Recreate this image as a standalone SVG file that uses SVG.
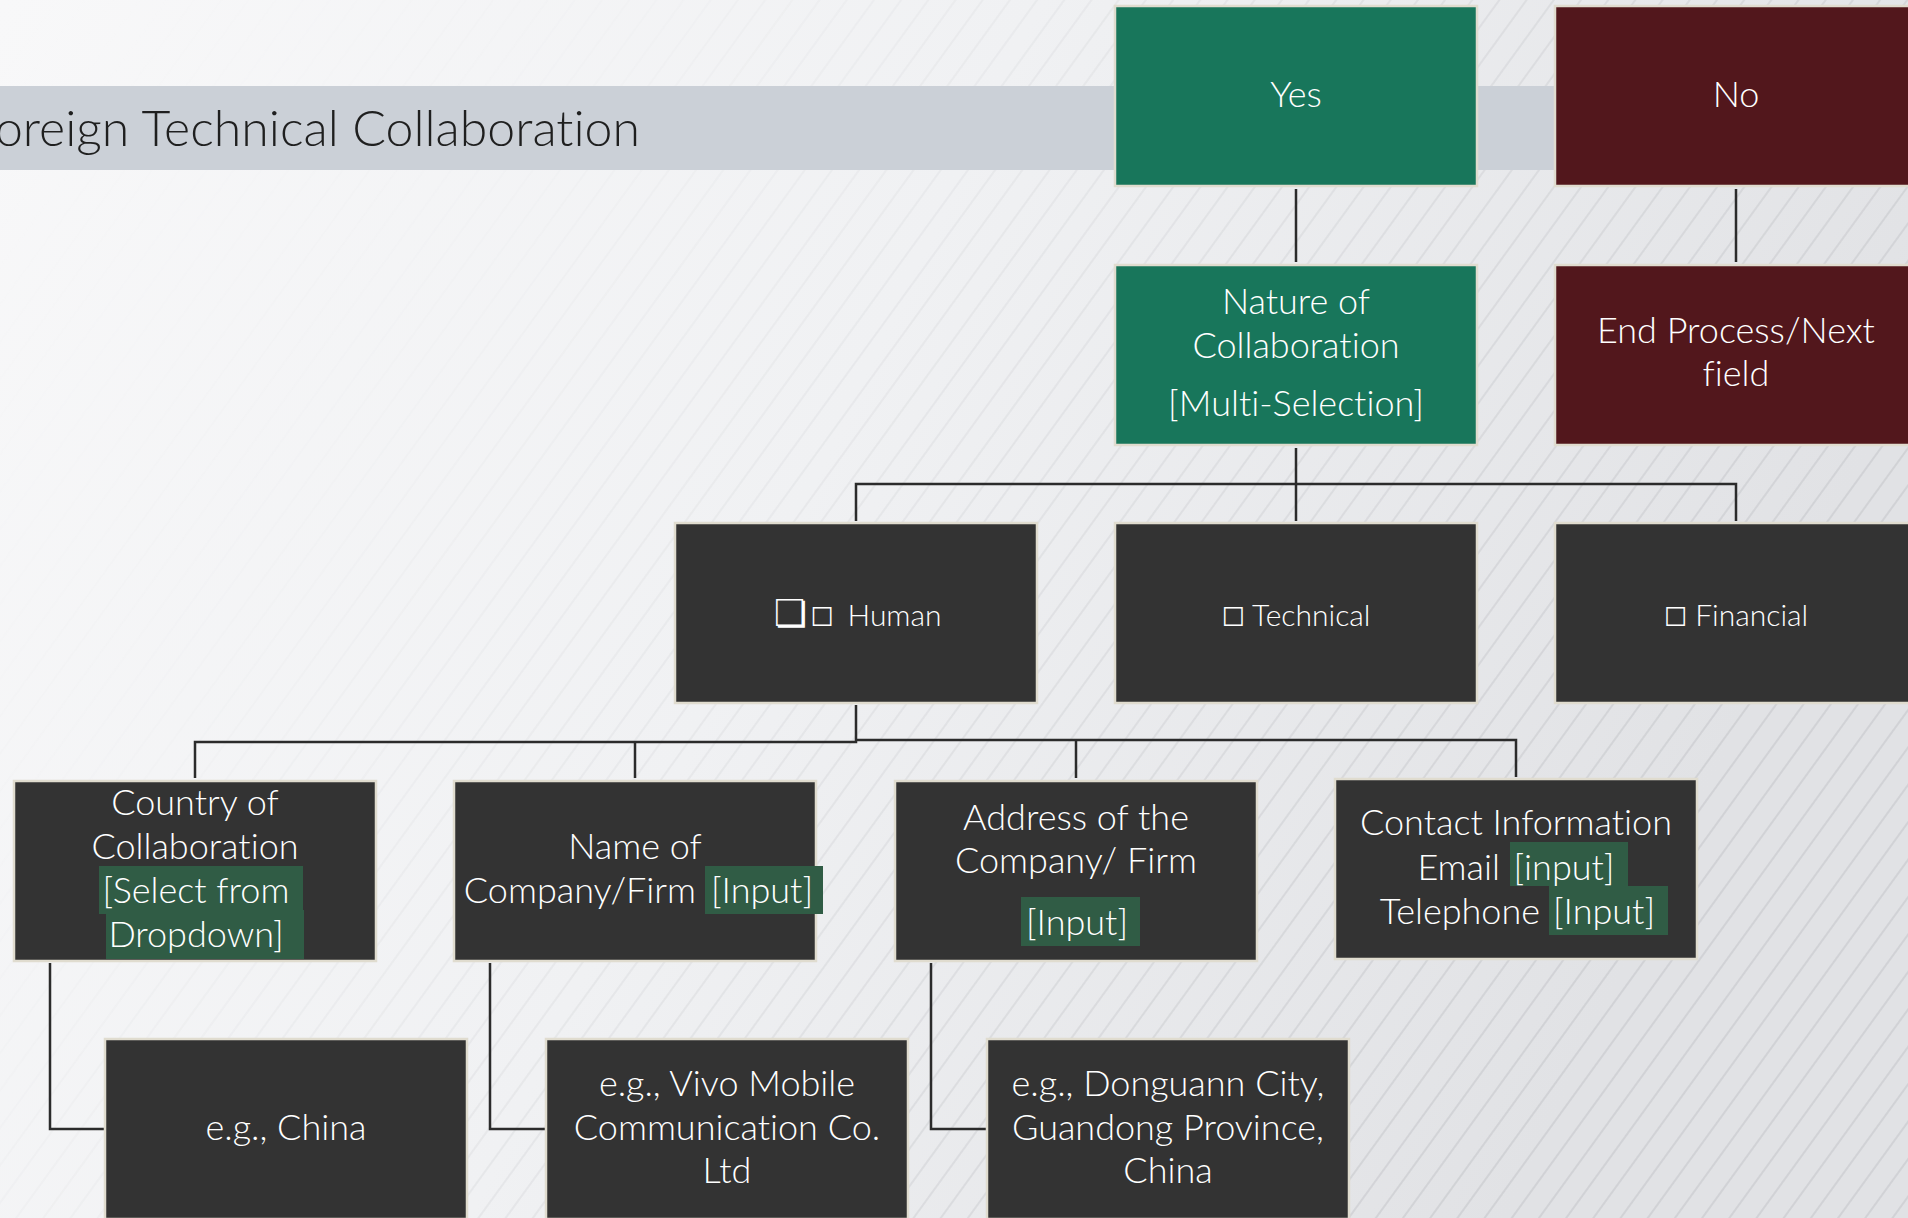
<svg xmlns="http://www.w3.org/2000/svg" width="1908" height="1218" viewBox="0 0 1908 1218">
<defs>
<linearGradient id="bg" x1="0" y1="0" x2="1" y2="0.3">
<stop offset="0" stop-color="#f8f8f9"/>
<stop offset="0.5" stop-color="#f0f1f3"/>
<stop offset="1" stop-color="#e1e2e5"/>
</linearGradient>
<pattern id="stripes" width="22" height="22" patternUnits="userSpaceOnUse" patternTransform="rotate(36)">
<line x1="3" y1="0" x2="3" y2="22" stroke="#c4c6ca" stroke-width="1.5"/>
</pattern>
<linearGradient id="fadeG" x1="0" y1="0" x2="1" y2="0.4">
<stop offset="0" stop-color="#fff" stop-opacity="0"/>
<stop offset="0.3" stop-color="#fff" stop-opacity="0.05"/>
<stop offset="0.6" stop-color="#fff" stop-opacity="0.35"/>
<stop offset="1" stop-color="#fff" stop-opacity="0.75"/>
</linearGradient>
<mask id="fade"><rect width="1908" height="1218" fill="url(#fadeG)"/></mask>
<style>
.node rect.box{stroke:#e0dccf;stroke-width:2.5}
.dark{fill:#333333}
.green{fill:#18765b}
.red{fill:#52171c}
.hl{fill:#305c45}
text{font-family:Lato,"Open Sans","Liberation Sans",sans-serif;font-weight:300;fill:#ffffff;font-size:36px;font-variant-ligatures:none}
.c{text-anchor:middle}
.e{text-anchor:end}
.s{font-size:30px}
.title{fill:#1f1f1f;font-size:50px;text-anchor:end}
.sym{font-family:"DejaVu Sans",sans-serif;font-weight:400}
#connectors path{fill:none;stroke:#2b2b2b;stroke-width:2.5}
</style>
</defs>
<rect width="1908" height="1218" fill="url(#bg)"/>
<rect width="1908" height="1218" fill="url(#stripes)" mask="url(#fade)"/>
<rect x="0" y="86" width="1560" height="84" fill="#cbd0d7"/>
<text class="title" x="640" y="146">Foreign Technical Collaboration</text>

<g id="connectors">
<path d="M1296,189 V262"/>
<path d="M1736,189 V262"/>
<path d="M1296,448 V521"/>
<path d="M856,521 V484 H1736 V521"/>
<path d="M856,705 V742 H195 V778"/>
<path d="M635,742 V778"/>
<path d="M856,740 H1516 V777"/>
<path d="M1076,740 V778"/>
<path d="M50,963 V1129 H104"/>
<path d="M490,963 V1129 H545"/>
<path d="M931,963 V1129 H986"/>
</g>

<g id="yes" class="node"><rect class="box green" x="1115" y="6" width="362" height="180"/>
<text class="c" x="1296" y="107">Yes</text></g>
<g id="no" class="node"><rect class="box red" x="1555" y="6" width="362" height="180"/>
<text class="c" x="1736" y="107">No</text></g>
<g id="nature" class="node"><rect class="box green" x="1115" y="265" width="362" height="180"/>
<text class="c" x="1296" y="314">Nature of</text>
<text class="c" x="1296" y="358">Collaboration</text>
<text class="c" x="1296" y="416">[Multi-Selection]</text></g>
<g id="end" class="node"><rect class="box red" x="1555" y="265" width="362" height="180"/>
<text class="c" x="1736" y="343">End Process/Next</text>
<text class="c" x="1736" y="386">field</text></g>

<g id="human" class="node"><rect class="box dark" x="675" y="523" width="362" height="180"/>
<text class="s" x="774" y="626"><tspan class="sym" font-size="37">❏</tspan><tspan class="sym" font-size="26" dx="3">☐</tspan><tspan dx="14">Human</tspan></text></g>
<g id="technical" class="node"><rect class="box dark" x="1115" y="523" width="362" height="180"/>
<text class="s c" x="1296" y="626"><tspan class="sym" font-size="26">☐</tspan> Technical</text></g>
<g id="financial" class="node"><rect class="box dark" x="1555" y="523" width="362" height="180"/>
<text class="s c" x="1736" y="626"><tspan class="sym" font-size="26">☐</tspan> Financial</text></g>

<g id="country" class="node"><rect class="box dark" x="14" y="781" width="362" height="180"/>
<rect class="hl" x="99" y="866" width="204" height="48"/>
<rect class="hl" x="106" y="910" width="198" height="49"/>
<text class="c" x="195" y="815">Country of</text>
<text class="c" x="195" y="859">Collaboration</text>
<text class="c" x="196" y="903">[Select from</text>
<text class="c" x="196" y="947">Dropdown]</text></g>
<g id="name" class="node"><rect class="box dark" x="454" y="781" width="362" height="180"/>
<rect class="hl" x="705" y="866" width="118" height="48"/>
<text class="c" x="635" y="859">Name of</text>
<text class="e" x="696" y="903">Company/Firm</text>
<text class="c" x="762" y="903">[Input]</text></g>
<g id="address" class="node"><rect class="box dark" x="895" y="781" width="362" height="180"/>
<rect class="hl" x="1021" y="897" width="119" height="49"/>
<text class="c" x="1076" y="830">Address of the</text>
<text class="c" x="1076" y="873">Company/ Firm</text>
<text class="c" x="1077" y="935">[Input]</text></g>
<g id="contact" class="node"><rect class="box dark" x="1335" y="779" width="362" height="180"/>
<rect class="hl" x="1510" y="842" width="118" height="44"/>
<rect class="hl" x="1549" y="886" width="119" height="49"/>
<text class="c" x="1516" y="835">Contact Information</text>
<text class="e" x="1500" y="880">Email</text>
<text class="c" x="1564" y="880">[input]</text>
<text class="e" x="1540" y="924">Telephone</text>
<text class="c" x="1604" y="924">[Input]</text></g>

<g id="china" class="node"><rect class="box dark" x="105" y="1039" width="362" height="180"/>
<text class="c" x="286" y="1140">e.g., China</text></g>
<g id="vivo" class="node"><rect class="box dark" x="546" y="1039" width="362" height="180"/>
<text class="c" x="727" y="1096">e.g., Vivo Mobile</text>
<text class="c" x="727" y="1140">Communication Co.</text>
<text class="c" x="727" y="1183">Ltd</text></g>
<g id="dongguan" class="node"><rect class="box dark" x="987" y="1039" width="362" height="180"/>
<text class="c" x="1168" y="1096">e.g., Donguann City,</text>
<text class="c" x="1168" y="1140">Guandong Province,</text>
<text class="c" x="1168" y="1183">China</text></g>
</svg>
